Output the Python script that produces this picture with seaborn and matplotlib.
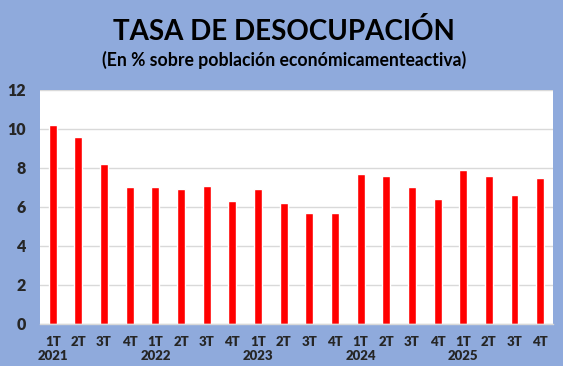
import matplotlib
matplotlib.use("Agg")
import matplotlib.pyplot as plt
import seaborn as sns
import pandas as pd

quarters = ["1T", "2T", "3T", "4T"] * 5
years = ["2021", "2022", "2023", "2024", "2025"]
values = [10.2, 9.6, 8.2, 7.0, 7.0, 6.9, 7.1, 6.3, 6.9, 6.2, 5.7, 5.7,
          7.7, 7.6, 7.0, 6.4, 7.9, 7.6, 6.6, 7.5]
tick_labels = [q + ("\n" + years[i // 4] if i % 4 == 0 else "") for i, q in enumerate(quarters)]

df = pd.DataFrame({"periodo": [f"p{i}" for i in range(len(values))], "valor": values})

sns.set_theme(style="white")
plt.rcParams['font.family'] = ['Lato', 'DejaVu Sans']

bg = "#8FAADC"
fig = plt.figure(figsize=(5.63, 3.66), dpi=100, facecolor=bg)
ax = fig.add_axes([0.0710, 0.1148, 0.9112, 0.6393])
sns.barplot(data=df, x="periodo", y="valor", color="#FF0000", saturation=1,
            width=0.31, ax=ax)
ax.set_facecolor("white")
ax.set_ylim(0, 12)
ax.set_yticks(range(0, 13, 2))
ax.set_xlim(-0.5, len(values) - 0.5)
ax.set_xticks(range(len(values)))
ax.set_xticklabels(tick_labels, fontsize=9.5, fontweight="heavy", linespacing=1.2)
ax.set_yticklabels([str(v) for v in range(0, 13, 2)], fontsize=11.5, fontweight="heavy")
ax.grid(axis="y", color="#D9D9D9", linewidth=1)
ax.set_axisbelow(True)
for s in ["top", "right", "left"]:
    ax.spines[s].set_visible(False)
ax.spines["bottom"].set_color("#D9D9D9")
ax.spines["bottom"].set_linewidth(1)
ax.tick_params(axis="x", length=0, pad=9)
ax.tick_params(axis="y", length=0, pad=10)
ax.set_xlabel("")
ax.set_ylabel("")

fig.text(0.504, 0.915, "TASA DE DESOCUPACIÓN", ha="center", va="center",
         fontsize=20, fontweight="bold", color="black")
fig.text(0.504, 0.836, "(En % sobre población económicamenteactiva)", ha="center",
         va="center", fontsize=12.7, fontweight="bold", color="black")

fig.savefig("out.png", dpi=100, facecolor=bg)
